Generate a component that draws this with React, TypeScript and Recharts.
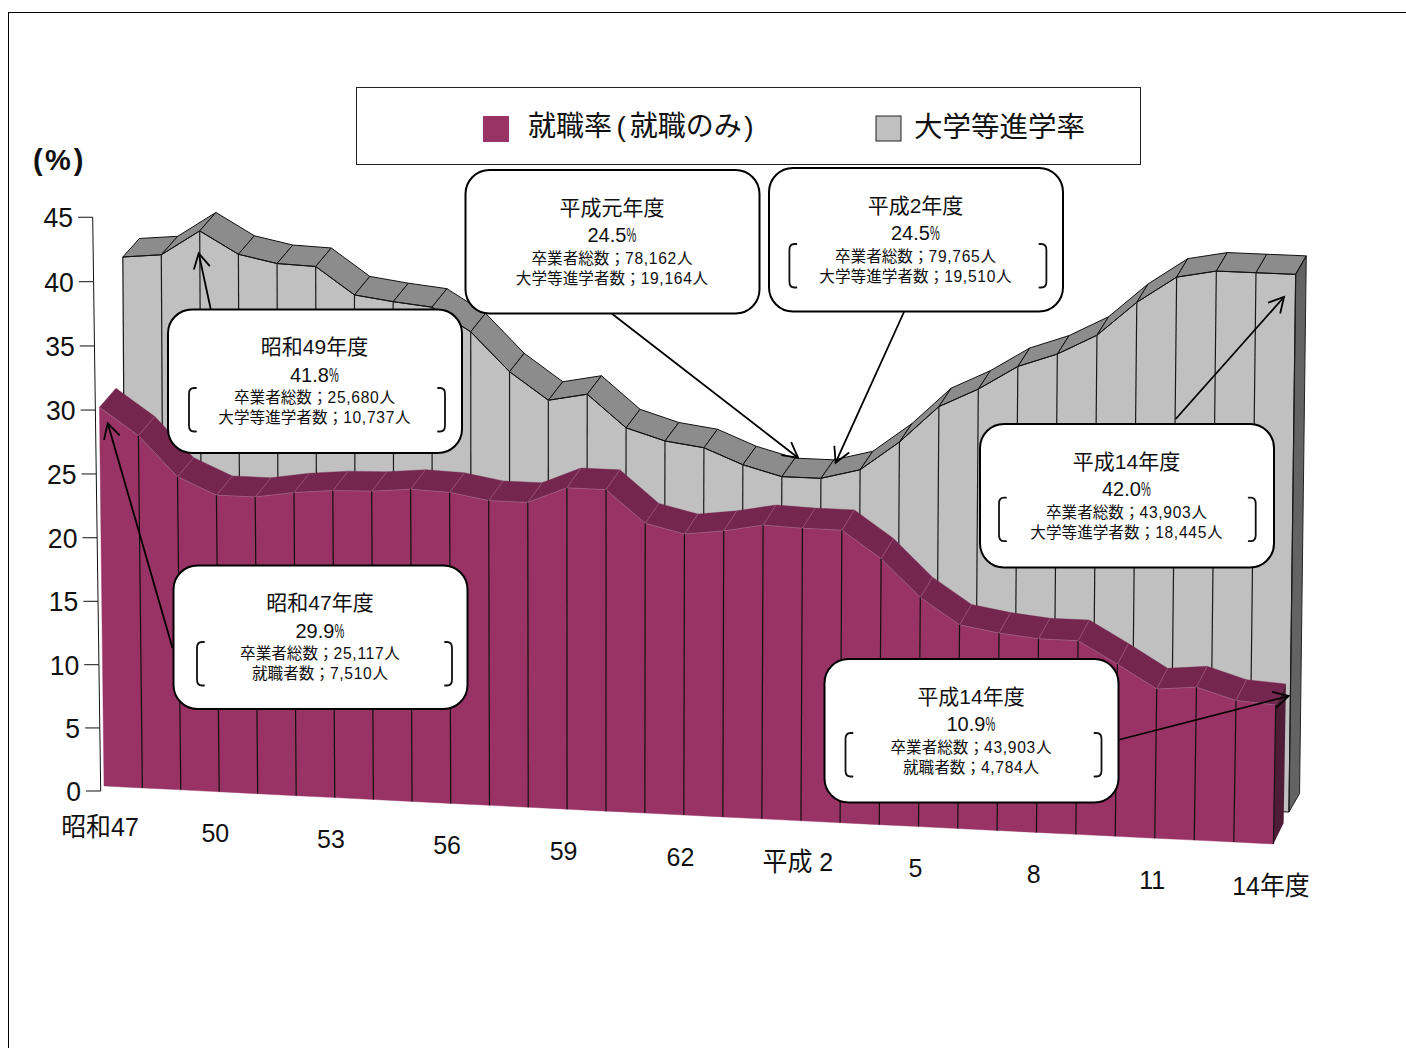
import React from "react";
import { ComposedChart, Area, XAxis, YAxis } from "recharts";

// ---------- data ----------
const years = ["昭和47","48","49","50","51","52","53","54","55","56","57","58","59","60","61","62","63","平成元","2","3","4","5","6","7","8","9","10","11","12","13","14"];
const employmentRate = [29.9,27.8,24.7,23.4,23.4,23.9,24.2,24.3,24.6,24.5,24.0,24.0,25.3,25.3,22.8,22.1,22.5,23.1,23.0,23.0,20.9,18.0,16.0,15.5,15.2,15.2,13.5,11.7,12.0,11.1,10.9];
const advancementRate = [39.5,39.8,41.8,40.1,39.5,39.4,37.3,36.9,36.6,34.8,31.8,29.7,30.3,27.8,26.9,26.5,25.3,24.5,24.5,25.3,27.6,30.5,32.0,33.9,35.0,36.6,39.3,41.4,42.0,42.0,42.0];
const yTicks = [0,5,10,15,20,25,30,35,40,45];
const xTickLabels: Record<string,string> = {"昭和47":"昭和47","50":"50","53":"53","56":"56","59":"59","62":"62","2":"平成 2","5":"5","8":"8","11":"11","14":"14年度"};
const seriesNames = ["就職率(就職のみ)","大学等進学率"];

const calloutTitles = ["昭和49年度","昭和47年度","平成元年度","平成2年度","平成14年度","平成14年度"];
const calloutRates = ["41.8","29.9","24.5","24.5","42.0","10.9"];
const calloutGraduates = ["卒業者総数；25,680人","卒業者総数；25,117人","卒業者総数；78,162人","卒業者総数；79,765人","卒業者総数；43,903人","卒業者総数；43,903人"];
const calloutDetail = ["大学等進学者数；10,737人","就職者数；7,510人","大学等進学者数；19,164人","大学等進学者数；19,510人","大学等進学者数；18,445人","就職者数；4,784人"];

// ---------- layout ----------
const W = 1406, H = 1048;
const PLOT_LEFT = 100, PLOT_RIGHT = 1274, PLOT_TOP = 217.25, PLOT_BOTTOM = 791;
const PX = (PLOT_BOTTOM - PLOT_TOP) / 45;
const FONT = "'Liberation Sans','Noto Sans CJK JP',sans-serif";
const MAROON = "#993366", GREY = "#c0c0c0";

type Plane = { B0:number;Ba:number;Bc:number;b0:number;b1:number;yb:number;ys:number;s0:number;s1:number;dx0:number;dx1:number;dy0:number;dy1:number;
  front:string;face:string;side:string;edge:string;edgeW:number;vert:string;seam:string;outline:boolean };

const maroonPlane: Plane = { B0:104,Ba:38.33,Bc:0.0217,b0:-0.154,b1:0.21,yb:786,ys:1.933,s0:0.9937,s1:1,dx0:16.6,dx1:10.2,dy0:-19,dy1:-21,
  front:MAROON,face:"#74264f",side:"#4f1c37",edge:"#b5729a",edgeW:0.6,vert:"#111",seam:"#a8648c",outline:false };
const greyPlane: Plane = { B0:126,Ba:38.15,Bc:0.0205,b0:-0.08,b1:0.16,yb:760.6,ys:1.714,s0:1,s1:1.004,dx0:16.6,dx1:10.6,dy0:-18.5,dy1:-18.5,
  front:GREY,face:"#8c8c8c",side:"#636363",edge:"#111",edgeW:1,vert:"#1a1a1a",seam:"#111",outline:true };

const N = years.length - 1;
function project(p: Plane, i: number, h: number): [number, number] {
  const t = i / N;
  const B = p.B0 + p.Ba * i + p.Bc * i * i;
  const b = p.b0 + (p.b1 - p.b0) * t;
  const s = p.s0 + (p.s1 - p.s0) * t;
  return [B + (b * h) / PX, p.yb + p.ys * i - h * s];
}
function back(p: Plane, i: number, pt: [number, number]): [number, number] {
  const t = i / N;
  return [pt[0] + p.dx0 + (p.dx1 - p.dx0) * t, pt[1] + p.dy0 + (p.dy1 - p.dy0) * t];
}
const poly = (pts: [number, number][]) => pts.map((q) => q.join(",")).join(" ");

const segment = (p: Plane) => (props: any) => {
  const { index, cy, points, key } = props;
  const h = PLOT_BOTTOM - cy;
  const top = project(p, index, h);
  const bot = project(p, index, 0);
  const nextPt = points && points[index + 1];
  const common = { key: key ?? `seg-${index}` };
  if (!nextPt) {
    const bt = back(p, index, top), bb = back(p, index, bot);
    return (
      <g {...common}>
        <polygon points={poly([top, bt, bb, bot])} fill={p.side} stroke={p.outline ? "#222" : "none"} strokeWidth={1} />
        <line x1={top[0]} y1={top[1]} x2={bot[0]} y2={bot[1]} stroke={p.vert} strokeWidth={1.2} />
        {p.outline && <line x1={top[0]} y1={top[1]} x2={bt[0]} y2={bt[1]} stroke={p.seam} strokeWidth={1} />}
      </g>
    );
  }
  const nh = PLOT_BOTTOM - nextPt.y;
  const nTop = project(p, index + 1, nh);
  const nBot = project(p, index + 1, 0);
  const bt = back(p, index, top), nbt = back(p, index + 1, nTop);
  return (
    <g {...common}>
      <polygon points={poly([top, nTop, nBot, bot])} fill={p.front} stroke={p.front} strokeWidth={0.4} />
      <polygon points={poly([top, bt, nbt, nTop])} fill={p.face} stroke={p.outline ? "#111" : p.face} strokeWidth={p.outline ? 1 : 0.4} />
      {!p.outline && index > 0 && <line x1={top[0]} y1={top[1]} x2={bt[0]} y2={bt[1]} stroke={p.seam} strokeWidth={0.6} />}
      <line x1={top[0]} y1={top[1]} x2={nTop[0]} y2={nTop[1]} stroke={p.edge} strokeWidth={p.edgeW} />
      {(p.outline || index > 0) && <line x1={top[0]} y1={top[1]} x2={bot[0]} y2={bot[1]} stroke={p.vert} strokeWidth={1.2} />}
      {p.outline && <line x1={bot[0]} y1={bot[1]} x2={nBot[0]} y2={nBot[1]} stroke="#111" strokeWidth={1} />}
    </g>
  );
};

const chartData = years.map((year, i) => ({ year, employment: employmentRate[i], advancement: advancementRate[i] }));

const axisBow = (v: number) => { const t = v / 45; return 7 * t * (1 - t); };
const YTick = (props: any) => {
  const v = props.payload.value as number;
  const y = (props.y as number) + axisBow(v);
  const ax = 100.7 - (8 * v) / 45;
  const nx = 100.7 - (8 * (v - 5)) / 45;
  const ny = (props.y as number) + 5 * PX + axisBow(v - 5);
  return (
    <g>
      <text transform={`translate(${ax - 19.7},${y + 10}) scale(0.95,1)`} textAnchor="end" fontFamily={FONT} fontSize={28} fill="#111">{v}</text>
      <line x1={ax - 14.7} y1={y} x2={ax} y2={y} stroke="#111" strokeWidth={1} />
      {v > 0 && <line x1={ax} y1={y} x2={nx} y2={ny} stroke="#111" strokeWidth={1} />}
    </g>
  );
};

const XTick = (props: any) => {
  const t = (props.x - PLOT_LEFT) / (PLOT_RIGHT - PLOT_LEFT);
  const label = xTickLabels[props.payload.value];
  if (!label) return <g />;
  return (
    <text transform={`translate(${props.x - 20 * t * (1 - t) - 3 * t},${PLOT_BOTTOM + 45 + 59 * t}) scale(0.96,1)`} textAnchor="middle" fontFamily={FONT} fontSize={26} fill="#111">{label}</text>
  );
};

// callout placement
const boxes = [
  { x: 168, y: 309.5, bl: 21, br: 277, bt: 78.5 },
  { x: 173.5, y: 565.5, bl: 23.5, br: 278.5, bt: 76.5 },
  { x: 465.5, y: 170, bl: 0, br: 0, bt: 0 },
  { x: 769, y: 168, bl: 20.4, br: 277.4, bt: 76 },
  { x: 980, y: 424, bl: 19, br: 275.7, bt: 73.7 },
  { x: 824.5, y: 659, bl: 21, br: 277, bt: 74 },
];
const arrows = [
  [210.7, 309, 198.7, 253.3],
  [172.5, 648, 107.7, 423.3],
  [611, 313, 798, 457.7],
  [904, 312, 835.6, 462.7],
  [1175.7, 419, 1284, 297],
  [1118, 740, 1288.7, 696],
];

const Arrow = ({ a }: { a: number[] }) => {
  const [x1, y1, x2, y2] = a;
  const ang = Math.atan2(y2 - y1, x2 - x1);
  const L = 17, w = 0.5;
  const h1 = [x2 - L * Math.cos(ang - w), y2 - L * Math.sin(ang - w)];
  const h2 = [x2 - L * Math.cos(ang + w), y2 - L * Math.sin(ang + w)];
  return (
    <g fill="none" stroke="#000">
      <line x1={x1} y1={y1} x2={x2} y2={y2} strokeWidth={1.8} />
      <polyline points={`${h1[0]},${h1[1]} ${x2},${y2} ${h2[0]},${h2[1]}`} strokeWidth={1.8} />
    </g>
  );
};

// digits in the callouts are set slightly apart, the way the original lays them out
const spaced = (s: string) =>
  s.split(/([0-9,]+)/).map((part, k) =>
    /[0-9]/.test(part) ? <tspan key={k} letterSpacing={0.7}>{part}</tspan> : <tspan key={k}>{part}</tspan>
  );

const Callout = ({ i }: { i: number }) => {
  const { x, y, bl, br, bt } = boxes[i];
  const w = 294, h = 143.5;
  const cx = x + w / 2 - 0.5;
  return (
    <g fontFamily={FONT} fill="#111" textAnchor="middle">
      <rect x={x} y={y} width={w} height={h} rx={24} ry={24} fill="#fff" stroke="#000" strokeWidth={2} />
      <text x={cx} y={y + 44.6} fontSize={21}>{calloutTitles[i]}</text>
      <text x={cx - 24.5} y={y + 72} fontSize={20} textAnchor="start">{calloutRates[i]}</text>
      <text transform={`translate(${cx + 14.5},${y + 72}) scale(0.55,1)`} fontSize={20} textAnchor="start">%</text>
      <text x={cx} y={y + 93.5} fontSize={15.6}>{spaced(calloutGraduates[i])}</text>
      <text x={cx} y={y + 113.5} fontSize={15.6}>{spaced(calloutDetail[i])}</text>
      {br > 0 && (
        <g fill="none" stroke="#111" strokeWidth={1.8} strokeLinecap="round">
          <path d={`M${x + bl + 7},${y + bt} h-2 q-5,0 -5,6 v31.5 q0,6 5,6 h2`} />
          <path d={`M${x + br - 7},${y + bt} h2 q5,0 5,6 v31.5 q0,6 -5,6 h-2`} />
        </g>
      )}
    </g>
  );
};

export default function App() {
  return (
    <div style={{ position: "absolute", left: 0, top: 0, width: W, height: H, overflow: "hidden", background: "#fff" }}>
      <div style={{ position: "absolute", left: 8, top: 12, width: W, height: H, borderLeft: "1px solid #000", borderTop: "1px solid #000" }} />
      <div style={{ position: "absolute", left: 0, top: 0 }}>
        <ComposedChart width={W} height={H} data={chartData} margin={{ top: PLOT_TOP, right: W - PLOT_RIGHT, bottom: H - PLOT_BOTTOM - 60, left: PLOT_LEFT - 60 }}>
          <XAxis dataKey="year" type="category" scale="point" padding={{ left: 0, right: 0 }} height={60} axisLine={false} tickLine={false} interval={0} tick={XTick} />
          <YAxis type="number" domain={[0, 45]} ticks={yTicks} width={60} axisLine={false} tickLine={false} tick={YTick} />
          <Area dataKey="advancement" name={seriesNames[1]} type="linear" fill={GREY} fillOpacity={0} stroke="none" isAnimationActive={false} activeDot={false} dot={segment(greyPlane)} />
          <Area dataKey="employment" name={seriesNames[0]} type="linear" fill={MAROON} fillOpacity={0} stroke="none" isAnimationActive={false} activeDot={false} dot={segment(maroonPlane)} />
        </ComposedChart>
      </div>
      <svg width={W} height={H} style={{ position: "absolute", left: 0, top: 0 }}>
        {arrows.map((a, i) => <Arrow key={i} a={a} />)}
        {boxes.map((_, i) => <Callout key={i} i={i} />)}
        <text x={33} y={170} fontFamily={FONT} fontSize={29} fontWeight="bold" fill="#111">(<tspan dx={2.4}>%</tspan><tspan dx={3}>)</tspan></text>
        <rect x={356.5} y={87.5} width={784} height={77} fill="#fff" stroke="#222" strokeWidth={1} />
        <rect x={483} y={116} width={26} height={26} fill={MAROON} />
        <text x={528} y={135.5} fontFamily={FONT} fontSize={28} fill="#111">就職率<tspan dx={4.5}>(</tspan><tspan dx={4}>就職のみ</tspan><tspan dx={2.5}>)</tspan></text>
        <rect x={876} y={116} width={25} height={25} fill={GREY} stroke="#222" strokeWidth={1} />
        <text x={914} y={137} fontFamily={FONT} fontSize={28.5} fill="#111">{seriesNames[1]}</text>
      </svg>
    </div>
  );
}
